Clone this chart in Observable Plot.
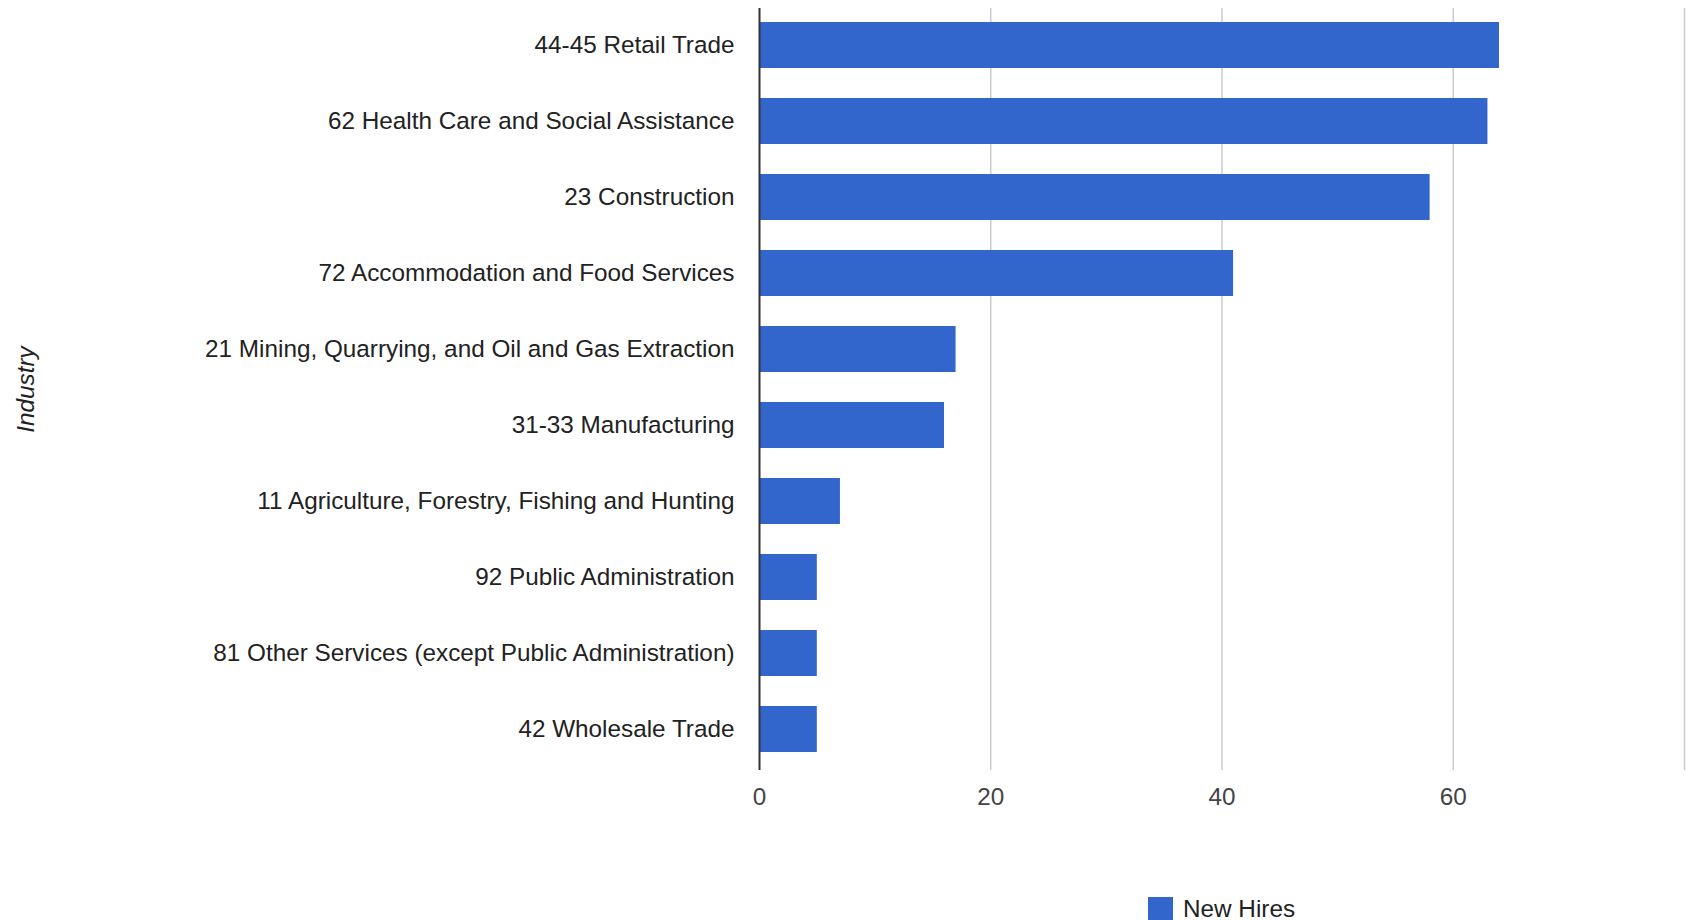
<!DOCTYPE html>
<html><head><meta charset="utf-8">
<script src="https://cdn.jsdelivr.net/npm/d3@7"></script>
<script src="https://cdn.jsdelivr.net/npm/@observablehq/plot@0.6"></script>
<style>
body{margin:0;background:#fff;font-family:"Liberation Sans",Arial,sans-serif;overflow:hidden;}
#legend{display:flex;align-items:center;height:26px;padding-left:1148px;margin-top:6px;font-size:24.3px;color:#222;}
#legend .sw{width:25px;height:25px;background:#3366cc;margin-right:10px;}
</style></head><body>
<div id="chart"></div>
<div id="legend"></div>
<script>
const industries = [
  "44-45 Retail Trade",
  "62 Health Care and Social Assistance",
  "23 Construction",
  "72 Accommodation and Food Services",
  "21 Mining, Quarrying, and Oil and Gas Extraction",
  "31-33 Manufacturing",
  "11 Agriculture, Forestry, Fishing and Hunting",
  "92 Public Administration",
  "81 Other Services (except Public Administration)",
  "42 Wholesale Trade"
];
const newHires = [64, 63, 58, 41, 17, 16, 7, 5, 5, 5];
const gridTicks = [20, 40, 60, 80];
const xTickLabels = [0, 20, 40, 60];
const seriesName = "New Hires";
const axisTitle = "Industry";
const barColor = "#3366cc";

const data = industries.map((d, i) => ({industry: d, value: newHires[i]}));

const fs = 24.3;
const chart = Plot.plot({
  width: 1690,
  height: 890,
  marginTop: 8,
  marginBottom: 120,
  marginLeft: 759,
  marginRight: 6,
  style: {fontFamily: "'Liberation Sans', Arial, sans-serif", fontSize: fs + "px", background: "#fff", color: "#222"},
  x: {domain: [0, 80]},
  y: {domain: industries, paddingInner: 0.39, paddingOuter: 0.2, align: 0.44},
  marks: [
    Plot.ruleX(gridTicks, {stroke: "#cccccc", strokeWidth: 1.5}),
    Plot.barX(data, {x: "value", y: "industry", fill: barColor}),
    Plot.ruleX([0], {stroke: "#333", strokeWidth: 2}),
    Plot.axisX({ticks: xTickLabels, tickSize: 0, tickPadding: 17, label: null, fontSize: fs, fill: "#444"}),
    Plot.axisY({tickSize: 0, tickPadding: 25, label: null, fontSize: fs, fill: "#222"}),
    Plot.text([axisTitle], {frameAnchor: "left", dx: -733, rotate: -90, textAnchor: "middle", fontStyle: "italic", fontSize: fs, fill: "#222"})
  ]
});
document.getElementById("chart").appendChild(chart);

const legend = document.getElementById("legend");
const sw = document.createElement("div");
sw.className = "sw";
const lbl = document.createElement("span");
lbl.textContent = seriesName;
legend.appendChild(sw);
legend.appendChild(lbl);
</script>
</body></html>
